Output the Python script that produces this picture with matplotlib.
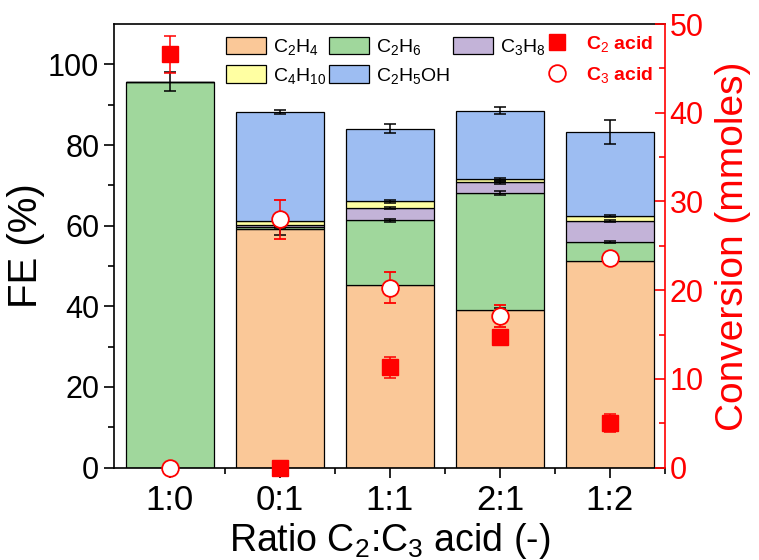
import numpy as np
import matplotlib
matplotlib.use("Agg")
import matplotlib.pyplot as plt
from matplotlib.patches import Patch
from matplotlib.lines import Line2D

plt.rcParams['font.family'] = ['Liberation Sans', 'DejaVu Sans']
plt.rcParams['mathtext.fontset'] = 'custom'
plt.rcParams['mathtext.rm'] = 'Liberation Sans'
plt.rcParams['mathtext.it'] = 'Liberation Sans'
plt.rcParams['mathtext.bf'] = 'Liberation Sans:bold'

# Feed ratio C2:C3 acid
ratios = ['1:0', '0:1', '1:1', '2:1', '1:2']

# Faradaic efficiency (%) of each product, stacked bottom to top
fe_c2h4 = [0.0, 59.2, 45.3, 39.1, 51.3]
fe_c2h6 = [95.7, 0.5, 16.0, 29.0, 4.7]
fe_c3h8 = [0.0, 0.5, 3.1, 2.7, 5.1]
fe_c4h10 = [0.0, 1.0, 1.6, 0.7, 1.3]
fe_c2h5oh = [0.0, 27.1, 18.1, 17.0, 20.9]

err_c2h4 = [0.0, 1.5, 0.5, 0.5, 0.3]
err_c2h6 = [2.3, 0.2, 0.4, 0.6, 0.3]
err_c3h8 = [0.0, 0.2, 0.3, 0.4, 0.3]
err_c4h10 = [0.0, 0.2, 0.3, 0.3, 0.3]
err_c2h5oh = [0.0, 0.5, 1.0, 0.9, 3.0]

# Acid conversion (mmoles)
conv_c2 = [46.6, 0.0, 11.3, 14.7, 5.0]
conv_c2_err = [2.1, 0.0, 1.15, 0.6, 1.0]
conv_c3 = [0.0, 28.0, 20.3, 17.1, 23.6]
conv_c3_err = [0.0, 2.2, 1.8, 1.2, 0.5]

labels = [r'C$_2$H$_4$', r'C$_2$H$_6$', r'C$_3$H$_8$', r'C$_4$H$_{10}$', r'C$_2$H$_5$OH']
colors = ['#FAC898', '#A0D79C', '#C3B3D8', '#FFFFA2', '#9DBDF2']
series = [fe_c2h4, fe_c2h6, fe_c3h8, fe_c4h10, fe_c2h5oh]
errors = [err_c2h4, err_c2h6, err_c3h8, err_c4h10, err_c2h5oh]

fig = plt.figure(figsize=(7.59, 5.6), dpi=100)
ax = fig.add_axes([0.150, 0.165, 0.726, 0.792])
x = np.arange(len(ratios))
width = 0.8

bottom = np.zeros(len(ratios))
for vals, errs, col in zip(series, errors, colors):
    vals = np.array(vals)
    ax.bar(x, vals, width, bottom=bottom, color=col, edgecolor='black',
           linewidth=0.9, zorder=2)
    top = bottom + vals
    errs = np.array(errs)
    m = errs > 0
    ax.errorbar(x[m], top[m], yerr=errs[m], fmt='none', ecolor='black',
                elinewidth=1.1, capsize=4, capthick=1.1, zorder=3)
    bottom = top

ax.set_xlim(-0.51, 4.5)
ax.set_ylim(0, 110)
ax.set_yticks(np.arange(0, 101, 20))
ax.set_yticks(np.arange(10, 110, 20), minor=True)
ax.set_xticks(x)
ax.set_xticks(list(x[:-1] + 0.5) + [4.5], minor=True)
ax.set_xticklabels(ratios)
ax.tick_params(axis='both', which='major', length=7, width=1.2, direction='out')
ax.tick_params(axis='y', which='major', labelsize=22)
ax.tick_params(axis='x', which='major', labelsize=25, pad=5)
ax.tick_params(axis='both', which='minor', length=4, width=1.2, direction='out')
ax.set_ylabel('FE (%)', fontsize=29, labelpad=2)
ax.set_xlabel(r'Ratio C$_2$:C$_3$ acid (-)', fontsize=27, labelpad=3)
for s in ax.spines.values():
    s.set_linewidth(1.2)
ax.spines['right'].set_visible(False)

ax2 = ax.twinx()
ax2.set_ylim(0, 50)
ax2.set_yticks(np.arange(0, 51, 10))
ax2.set_yticks(np.arange(5, 50, 10), minor=True)
red = '#FF0000'
ax2.errorbar(x, conv_c2, yerr=conv_c2_err, fmt='s', color=red, ms=11,
             mec=red, mfc=red, elinewidth=1.1, capsize=4, capthick=1.1,
             zorder=4, clip_on=False)
ax2.errorbar(x, conv_c3, yerr=conv_c3_err, fmt='o', color=red, ms=12,
             mec=red, mfc='white', mew=1.3, elinewidth=1.1, capsize=4,
             capthick=1.1, zorder=5, clip_on=False)
ax2.spines['right'].set_color(red)
ax2.spines['right'].set_linewidth(1.2)
for side in ['left', 'top', 'bottom']:
    ax2.spines[side].set_visible(False)
ax2.tick_params(axis='y', which='major', colors=red, labelsize=22, length=7,
                width=1.2, direction='in')
ax2.tick_params(axis='y', which='minor', colors=red, length=4, width=1.2,
                direction='in')
ax2.set_ylabel('Conversion (mmoles)', fontsize=28, color=red, labelpad=8)

# Product legend
handles = [Patch(facecolor=c, edgecolor='black', linewidth=0.9) for c in colors]
order = [0, 3, 1, 4, 2]
leg1 = ax2.legend([handles[i] for i in order], [labels[i] for i in order],
                  ncol=3, loc='upper left', bbox_to_anchor=(0.298, 0.934),
                  bbox_transform=fig.transFigure, frameon=False, fontsize=14,
                  handlelength=2.05, handleheight=1.0, handletextpad=0.35,
                  columnspacing=0.15, labelspacing=0.42, borderpad=0.0,
                  borderaxespad=0.0)
ax2.add_artist(leg1)

# Acid conversion legend
acid_handles = [
    Line2D([], [], marker='s', ls='none', color=red, ms=11),
    Line2D([], [], marker='o', ls='none', mec=red, mfc='white', mew=1.3, ms=12),
]
leg2 = ax2.legend(acid_handles, [r'C$_2$ acid', r'C$_3$ acid'], loc='upper left',
                  bbox_to_anchor=(0.708, 0.939), bbox_transform=fig.transFigure,
                  frameon=False, handletextpad=0.5, labelspacing=0.55,
                  borderpad=0.0, borderaxespad=0.0,
                  prop={'weight': 'bold', 'size': 14})
for t in leg2.get_texts():
    t.set_color(red)

fig.savefig('out.png', dpi=100)
